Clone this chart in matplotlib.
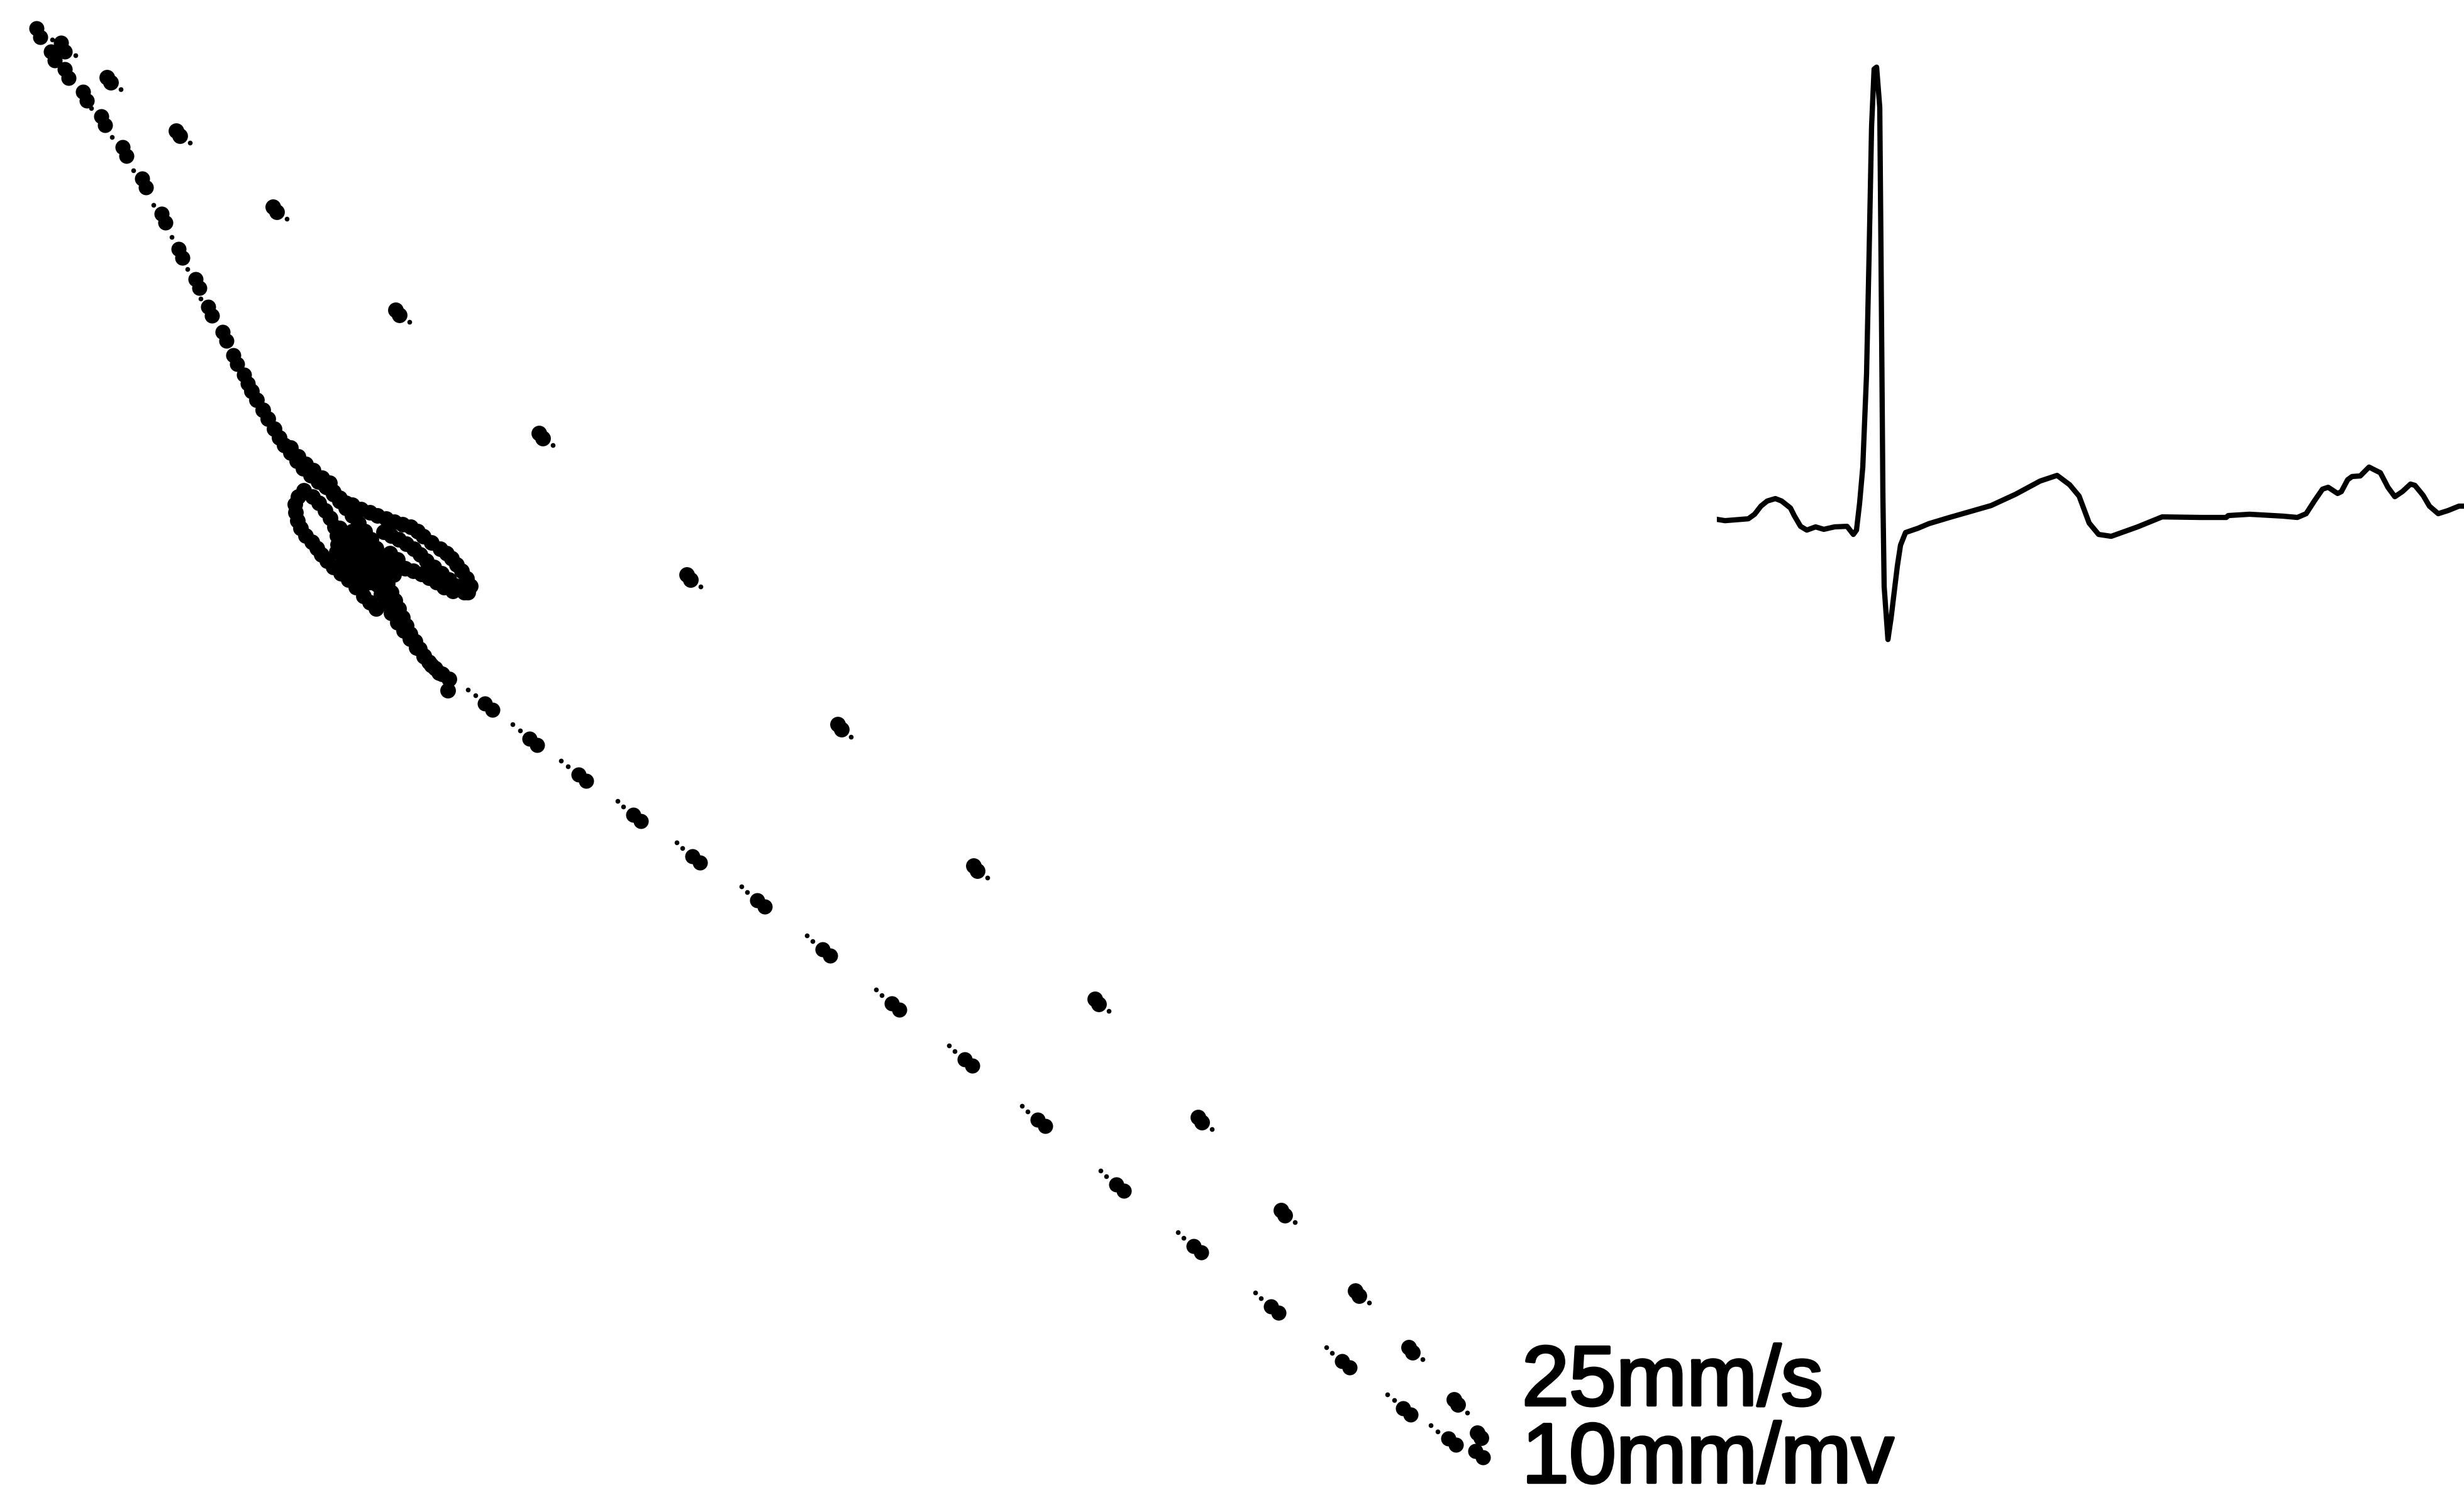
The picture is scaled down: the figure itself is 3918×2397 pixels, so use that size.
import matplotlib
matplotlib.use("Agg")
import matplotlib.pyplot as plt
import matplotlib.patheffects as pe
from matplotlib.transforms import ScaledTranslation

# ---- lead loop (x = lead A, y = lead B, arbitrary units, y grows downward) ----
# steep chain from the top-left corner (each blob = two close samples)
left_x = [0.61, 1.00, 0.84, 1.06, 1.35, 1.64, 1.98, 2.29, 2.60, 2.87, 3.14, 3.34, 3.57, 3.74, 3.91]
left_y = [0.52, 0.75, 0.89, 1.17, 1.53, 1.92, 2.41, 2.91, 3.47, 4.03, 4.51, 4.95, 5.35, 5.72, 6.03]

# sparse outer chain (large single blobs)
outer_x = [1.73, 2.83, 4.37, 6.32, 8.60, 10.95, 13.35, 15.51, 17.44, 19.08, 20.40, 21.58, 22.43, 23.15, 23.52]
outer_y = [1.27, 2.12, 3.33, 4.97, 6.93, 9.18, 11.56, 13.81, 15.93, 17.81, 19.29, 20.57, 21.47, 22.30, 22.83]

# lower chain leaving the loop
lower_x = [7.77, 8.48, 9.26, 10.13, 11.07, 12.10, 13.14, 14.24, 15.40, 16.56, 17.81, 19.04, 20.27, 21.40, 22.37, 23.09, 23.52]
lower_y = [11.24, 11.80, 12.37, 13.01, 13.67, 14.37, 15.15, 16.01, 16.90, 17.86, 18.89, 19.87, 20.83, 21.70, 22.45, 22.93, 23.13]

# the tangled loop (QRS / T region)
loop_x = [4.00, 4.08, 4.18, 4.26, 4.36, 4.44, 4.52, 4.62, 4.72, 4.82, 4.94, 5.06, 5.18, 5.30, 5.40, 5.50,
          4.62, 4.74, 4.86, 4.98, 5.12, 5.24,
          4.83, 4.74, 4.69, 4.70, 4.73, 4.78, 4.86, 4.96, 5.04, 5.11, 5.20, 5.30, 5.42, 5.54, 5.66,
          5.78, 5.88, 5.98,
          4.97, 5.07, 5.17, 5.25, 5.32, 5.36, 5.37, 5.35,
          5.20, 5.30, 5.40, 5.50, 5.60, 5.70, 5.80, 5.90, 5.98, 6.04, 6.08, 6.12, 6.16, 6.22, 6.28, 6.34,
          6.40, 6.46, 6.52, 6.60, 6.67, 6.74, 6.82, 6.92, 7.03, 7.14, 7.12,
          6.00, 6.06, 6.14, 6.22, 6.32, 6.42, 6.52, 6.62, 6.74, 6.86, 6.98,
          5.40, 5.48, 5.56, 5.66, 5.76, 5.86, 5.96, 5.48, 5.58, 5.68, 5.78, 5.90, 5.60, 5.72, 5.84, 5.96,
          6.08, 6.18, 6.26, 5.45, 5.55, 5.65, 5.78, 6.20, 6.32,
          5.60, 5.74, 5.88, 6.00, 6.14, 6.27, 6.40, 6.53, 6.64, 6.73, 6.86, 7.00, 7.10, 7.18, 7.26, 7.34,
          7.42, 7.48, 7.44,
          6.10, 6.22, 6.34, 6.46, 6.58, 6.68, 6.78, 6.90, 7.02, 7.14, 7.26, 7.38,
          6.30, 6.44, 6.57, 6.70, 6.82, 6.94, 7.06, 7.20]
loop_y = [6.22, 6.36, 6.52, 6.66, 6.82, 6.96, 7.08, 7.20, 7.33, 7.45, 7.56, 7.66, 7.74, 7.82, 7.92, 8.00,
          7.12, 7.26, 7.38, 7.48, 7.60, 7.68,
          7.80, 7.90, 8.02, 8.15, 8.28, 8.40, 8.52, 8.62, 8.72, 8.82, 8.92, 9.02, 9.12, 9.22, 9.34,
          9.48, 9.58, 9.68,
          7.90, 8.00, 8.12, 8.24, 8.38, 8.52, 8.66, 8.78,
          7.75, 7.86, 7.97, 8.08, 8.20, 8.32, 8.45, 8.58, 8.72, 8.86, 9.00, 9.14, 9.28, 9.42, 9.55, 9.68,
          9.82, 9.95, 10.08, 10.20, 10.32, 10.43, 10.53, 10.63, 10.72, 10.80, 10.98,
          9.30, 9.45, 9.60, 9.75, 9.90, 10.03, 10.16, 10.30, 10.44, 10.58, 10.70,
          8.40, 8.52, 8.64, 8.76, 8.88, 9.00, 9.12, 8.78, 8.92, 9.04, 9.16, 9.26, 8.45, 8.56, 8.68, 8.80,
          8.92, 9.04, 9.14, 8.95, 9.08, 9.18, 9.30, 8.80, 8.90,
          8.03, 8.10, 8.15, 8.20, 8.25, 8.30, 8.34, 8.38, 8.45, 8.53, 8.63, 8.73, 8.80, 8.88, 8.98, 9.08,
          9.20, 9.32, 9.42,
          8.46, 8.52, 8.58, 8.65, 8.73, 8.82, 8.92, 9.02, 9.12, 9.22, 9.32, 9.42,
          9.00, 9.04, 9.08, 9.13, 9.19, 9.26, 9.34, 9.40]

# single small samples between the blobs
tiny_x = [0.83, 1.20, 1.45, 1.78, 2.12, 2.44, 2.73, 2.98, 3.19,
          1.92, 3.02, 4.56, 6.51, 8.79, 11.14, 13.53, 15.70, 17.63, 19.27, 20.59, 21.77, 22.62, 23.33,
          7.44, 7.56, 8.15, 8.27, 8.92, 9.03, 9.82, 9.91, 10.76, 10.85, 11.79, 11.88, 12.83, 12.92,
          13.93, 14.02, 15.09, 15.18, 16.25, 16.34, 17.50, 17.59, 18.73, 18.82, 19.96, 20.05,
          21.09, 21.18, 22.06, 22.17, 22.75, 22.86]
tiny_y = [0.63, 0.88, 1.72, 2.18, 2.71, 3.26, 3.77, 4.28, 4.75,
          1.42, 2.27, 3.48, 5.12, 7.08, 9.33, 11.72, 13.96, 16.08, 17.96, 19.44, 20.72, 21.62, 22.47,
          10.97, 11.06, 11.52, 11.62, 12.10, 12.19, 12.74, 12.83, 13.40, 13.49, 14.10, 14.19, 14.88, 14.97,
          15.74, 15.83, 16.63, 16.72, 17.59, 17.68, 18.62, 18.71, 19.60, 19.69, 20.56, 20.65,
          21.43, 21.52, 22.18, 22.27, 22.67, 22.77]

# ---- ECG beat (time in ms, amplitude in mV) ----
ecg_t = [0, 13, 50, 60, 70, 80, 93, 103, 117, 123, 133, 143, 157, 170, 187, 207, 217, 222, 227, 232,
         238, 242, 246, 250, 254, 259, 261, 264, 266, 272, 277, 283, 287, 292, 300, 320, 337, 370, 436,
         475, 514, 541, 561, 576, 592, 607, 627, 669, 708, 770, 810, 813, 847, 900, 923, 937, 950, 963,
         972, 987, 993, 1003, 1010, 1023, 1037, 1047, 1055, 1067, 1078, 1090, 1103, 1110, 1123, 1133,
         1147, 1163, 1180, 1188]
ecg_mv = [-0.01, -0.017, -0.007, 0.017, 0.06, 0.087, 0.10, 0.087, 0.05, 0.01, -0.047, -0.067, -0.05,
          -0.063, -0.05, -0.047, -0.09, -0.067, 0.077, 0.267, 0.76, 1.387, 2.073, 2.377, 2.387, 2.173,
          1.387, 0.113, -0.367, -0.647, -0.533, -0.367, -0.257, -0.147, -0.08, -0.057, -0.033, 0.0,
          0.063, 0.123, 0.193, 0.223, 0.173, 0.113, -0.03, -0.09, -0.10, -0.05, 0.003, 0.0, 0.0, 0.01,
          0.017, 0.007, 0.0, 0.02, 0.087, 0.15, 0.16, 0.127, 0.137, 0.2, 0.217, 0.22, 0.267, 0.25,
          0.237, 0.16, 0.11, 0.137, 0.177, 0.17, 0.117, 0.06, 0.02, 0.037, 0.06, 0.06]

labels = ["25mm/s", "10mm/mv"]

fig = plt.figure(figsize=(39.18, 23.97), dpi=100)
ax = fig.add_axes([0, 0, 1, 1])
ax.set_xlim(0, 39.18)
ax.set_ylim(23.97, 0)
ax.axis("off")


def shifted(dx, dy):
    return ax.transData + ScaledTranslation(dx, dy, fig.dpi_scale_trans)


dot = dict(color="black", linewidths=0, marker="o")
# each blob is two overlapping samples
for sgn in (-1, 1):
    ax.scatter(left_x, left_y, s=300, transform=shifted(0.03 * sgn, -0.07 * sgn), **dot)
    ax.scatter(lower_x, lower_y, s=300, transform=shifted(0.06 * sgn, -0.05 * sgn), **dot)
    ax.scatter(outer_x, outer_y, s=320, transform=shifted(0.03 * sgn, -0.04 * sgn), **dot)
ax.scatter(loop_x, loop_y, s=320, **dot)
ax.scatter(tiny_x, tiny_y, s=30, **dot)

txt_style = dict(fontsize=97, family=["Liberation Sans", "DejaVu Sans"], ha="left", va="baseline",
                 path_effects=[pe.withStroke(linewidth=3.2, foreground="black")])
ax.text(24.20, 22.35, labels[0], **txt_style)
ax.text(24.20, 23.58, labels[1], **txt_style)

# ECG inset
ecg_ax = fig.add_axes([2730 / 3918, (2397 - 1100) / 2397, 1188 / 3918, 1040 / 2397])
ecg_ax.plot(ecg_t, ecg_mv, color="black", lw=6, solid_joinstyle="round")
ecg_ax.set_xlim(0, 1188)
ecg_ax.set_ylim(-0.923, 2.543)
ecg_ax.axis("off")

fig.savefig("out.png", dpi=100, facecolor="white")
